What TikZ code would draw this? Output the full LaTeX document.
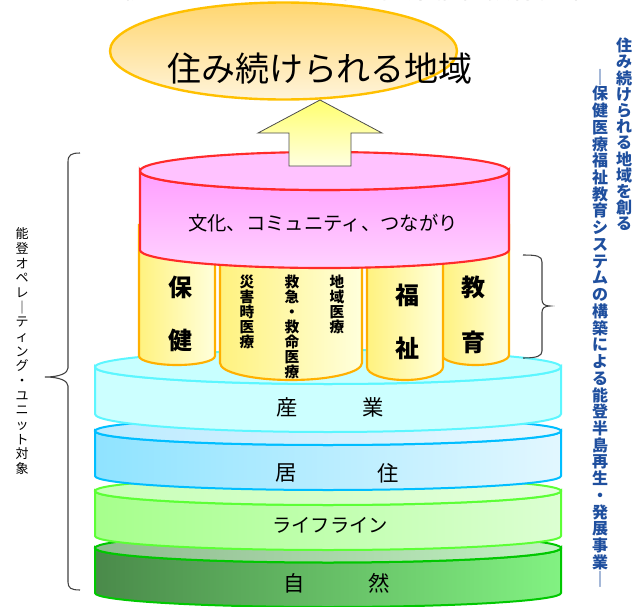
\documentclass[tikz,border=0pt]{standalone}
\usepackage{fontspec}
\newfontfamily\jp{Noto Sans CJK JP}
\definecolor{ellE}{HTML}{FFC000}
\definecolor{ellT}{HTML}{FFD670}
\definecolor{ellB}{HTML}{FFF4DA}
\definecolor{arrT}{HTML}{FFFF70}
\definecolor{arrB}{HTML}{FFFFE0}
\definecolor{pinkE}{HTML}{FF2A2A}
\definecolor{pinkTop}{HTML}{FFC2FF}
\definecolor{pinkS1}{HTML}{FF9EFF}
\definecolor{pinkS2}{HTML}{FFD2FF}
\definecolor{pilE}{HTML}{FFB000}
\definecolor{pilL}{HTML}{FFF27F}
\definecolor{pilR}{HTML}{FFFFDC}
\definecolor{cyE}{HTML}{5CF6FF}
\definecolor{cyF}{HTML}{CCFFFF}
\definecolor{cyT}{HTML}{C8FFFF}
\definecolor{blE}{HTML}{00BEFF}
\definecolor{blL}{HTML}{8FE3FF}
\definecolor{blR}{HTML}{E2F7FF}
\definecolor{blTL}{HTML}{BDEBFF}
\definecolor{blTR}{HTML}{E8F8FF}
\definecolor{lgE}{HTML}{5CFF36}
\definecolor{lgL}{HTML}{A6FF8C}
\definecolor{lgR}{HTML}{DCFFD2}
\definecolor{lgTL}{HTML}{C8FFB8}
\definecolor{lgTR}{HTML}{E4FFDC}
\definecolor{dgE}{HTML}{00C800}
\definecolor{dgL}{HTML}{4A8A4A}
\definecolor{dgR}{HTML}{82F282}
\definecolor{dgTL}{HTML}{8FBA8F}
\definecolor{dgTR}{HTML}{C2F2C2}
\definecolor{blueT}{HTML}{1F4F9E}
\definecolor{braceC}{HTML}{404040}
\tikzset{
  every node/.style={inner sep=0pt, outer sep=0pt},
  jptext/.style={font=\jp\fontsize{#1}{#1}\selectfont},
  pillarbox/.style={draw=pilE, line width=1.6pt, left color=pilL, right color=pilR},
  bracepath/.style={draw=braceC, line width=0.8pt},
  vstack/.style={align=center, font=\jp\bfseries\fontsize{11}{11.3}\selectfont},
}
\newcommand\mycyl[8]{%
  \path[#7] ({#1-#2},#3) -- ({#1-#2},#4)
     arc[start angle=180,end angle=0,x radius=#2,y radius=#6]
     -- ({#1+#2},#3)
     arc[start angle=0,end angle=180,x radius=#2,y radius=#5] -- cycle;
  \path[#8] (#1,#3) ellipse[x radius=#2,y radius=#5];
}
\newcommand\mypillar[4]{%
  \path[pillarbox] (#1,225) -- (#1,#3)
     arc[start angle=180,end angle=0,x radius={(#2-#1)/2},y radius=#4]
     -- (#2,225) -- cycle;
}
\begin{document}
\begin{tikzpicture}[x=0.75pt,y=-0.75pt]
\useasboundingbox (0,0) rectangle (633,607);
\begin{scope}
\clip (0,0) rectangle (633,607);
% clipped title (only its lower edge lies inside the picture)
\node[jptext=19.5, anchor=base] (title) at (330,-1.5) {住み続けられる地域の保健医療福祉教育体系};
% layers, bottom first
\mycyl{328}{233}{548}{593}{14.5}{14}{draw=dgE,line width=1.5pt,left color=dgL,right color=dgR}{draw=dgE,line width=1.5pt,left color=dgTL,right color=dgTR}
\mycyl{328}{233}{491}{536}{14}{14}{draw=lgE,line width=1.5pt,left color=lgL,right color=lgR}{draw=lgE,line width=1.5pt,left color=lgTL,right color=lgTR}
\mycyl{328}{233}{431}{476}{14}{14}{draw=blE,line width=1.5pt,left color=blL,right color=blR}{draw=blE,line width=1.5pt,left color=blTL,right color=blTR}
\mycyl{328}{233}{367}{414}{17}{18}{draw=cyE,line width=1.5pt,fill=cyF}{draw=cyE,line width=1.5pt,fill=cyT}
% top ellipse
\path[draw=ellE, line width=1.8pt, top color=ellT, bottom color=ellB] (283.5,51) ellipse[x radius=173.5, y radius=48.5];
\end{scope}
% pillars
\mypillar{442}{509}{355}{10}
\mypillar{139}{215}{356}{9}
\mypillar{220}{362}{363}{17}
\mypillar{367}{443}{367}{13}
% pink cylinder
\mycyl{324.5}{184.5}{171}{250}{19}{18}{draw=pinkE,line width=1.6pt,top color=pinkS1,bottom color=pinkS2}{draw=pinkE,line width=1.6pt,fill=pinkTop}
% arrow
\path[draw=black!70, line width=0.6pt, top color=arrT, bottom color=arrB]
  (289,166) -- (289,133) -- (258,133) -- (320,100) -- (382,133) -- (351,133) -- (351,166) -- cycle;
% texts
\node[jptext=25.5] (goal) at (320,69) {住み続けられる地域};
\node[jptext=14.5] (culture) at (323,223) {文化、コミュニティ、つながり};
\node[jptext=16] (sangyo1) at (287,407) {産};
\node[jptext=16] (sangyo2) at (373,407) {業};
\node[jptext=16] (kyoju1) at (286,473) {居};
\node[jptext=16] (kyoju2) at (388,473) {住};
\node[jptext=14.5] (lifeline) at (330,525) {ライフライン};
\node[jptext=16] (shizen1) at (294,583) {自};
\node[jptext=16] (shizen2) at (379,583) {然};
% pillar texts
\node[font=\jp\bfseries\fontsize{18}{18}\selectfont] (ho) at (180,287) {保};
\node[font=\jp\bfseries\fontsize{18}{18}\selectfont] (ken) at (180,340) {健};
\node[font=\jp\bfseries\fontsize{18}{18}\selectfont] (fuku) at (407,295) {福};
\node[font=\jp\bfseries\fontsize{18}{18}\selectfont] (shi) at (407,348) {祉};
\node[font=\jp\bfseries\fontsize{18}{18}\selectfont] (kyo) at (473,287) {教};
\node[font=\jp\bfseries\fontsize{18}{18}\selectfont] (iku) at (473,342) {育};
\node[vstack, anchor=north] (saigai) at (247,275) {災\\害\\時\\医\\療};
\node[vstack, anchor=north] (kyukyu) at (292,275) {救\\急\\・\\救\\命\\医\\療};
\node[vstack, anchor=north] (chiiki) at (337,275) {地\\域\\医\\療};
% left label
\node[align=center, font=\jp\fontsize{9.75}{11}\selectfont, anchor=north] (leftlbl) at (22,228)
  {能\\登\\オ\\ペ\\レ\\｜\\テ\\ィ\\ン\\グ\\・\\ユ\\ニ\\ッ\\ト\\対\\象};
% right labels
\node[align=center, font=\jp\bfseries\fontsize{12}{12.15}\selectfont, text=blueT, anchor=north] (rtitle) at (624,38)
  {住\\み\\続\\け\\ら\\れ\\る\\地\\域\\を\\創\\る};
\node[align=center, font=\jp\bfseries\fontsize{12}{12.55}\selectfont, text=blueT, anchor=north] (rsub) at (600,69)
  {｜\\保\\健\\医\\療\\福\\祉\\教\\育\\シ\\ス\\テ\\ム\\の\\構\\築\\に\\よ\\る\\能\\登\\半\\島\\再\\生\\・\\発\\展\\事\\業\\｜};
% braces
\coordinate (lbTop) at (80,153);
\coordinate (lbTip) at (45,377);
\coordinate (lbBot) at (80,590);
\path[bracepath] (lbTop) .. controls (71,153) and (68,155) .. (68,162) -- (68,368)
   .. controls (68,373) and (60,377) .. (lbTip)
   .. controls (60,377) and (68,381) .. (68,386) -- (68,582)
   .. controls (68,588) and (71,590) .. (lbBot);
\coordinate (rbTop) at (523,255);
\coordinate (rbTip) at (550,306);
\coordinate (rbBot) at (523,358);
\path[bracepath] (rbTop) .. controls (537,255) and (542,256) .. (542,262) -- (542,300)
   .. controls (542,304) and (545,306) .. (rbTip)
   .. controls (545,306) and (542,308) .. (542,312) -- (542,351)
   .. controls (542,356) and (537,358) .. (rbBot);
\end{tikzpicture}
\end{document}
